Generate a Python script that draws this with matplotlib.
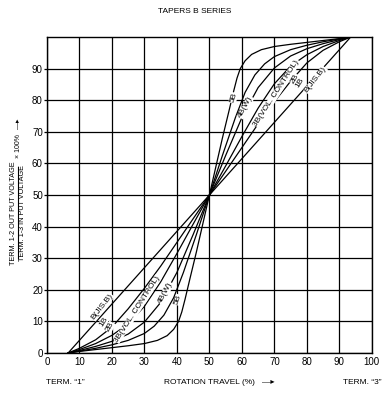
import matplotlib.pyplot as plt
from matplotlib.lines import Line2D

plt.rcParams['font.family'] = ['Liberation Sans', 'DejaVu Sans']

# curves (rotation travel %, output %)
b_x = [6.5, 50, 93.5]
b_y = [0, 50, 100]

b1_x = [6.5, 10, 15, 20, 25, 30, 35, 40, 45, 50, 55, 60, 65, 70, 75, 80, 85, 90, 93.5]
b1_y = [0, 1.5, 4.2, 8.2, 14, 20.5, 27.5, 35, 42.5, 50, 57.5, 65, 72.5, 79.5, 86, 91.8, 95.8, 98.5, 100]

b2_x = [6.5, 10, 15, 20, 25, 30, 35, 40, 45, 50, 55, 60, 65, 70, 75, 80, 85, 90, 93.5]
b2_y = [0, 1.1, 3, 5.6, 9.2, 14.8, 22.5, 31.5, 40.8, 50, 59.2, 68.5, 77.5, 85.2, 90.8, 94.4, 97, 98.9, 100]

b3_x = [6.5, 10, 15, 20, 25, 30, 35, 40, 45, 50, 55, 60, 65, 70, 75, 80, 85, 90, 93.5]
b3_y = [0, 0.8, 2.1, 3.7, 6, 9.8, 16, 25.5, 37.5, 50, 62.5, 74.5, 84, 90.2, 94, 96.3, 97.9, 99.2, 100]

b4_x = [6.5, 10, 15, 20, 25, 30, 33, 36, 39, 42, 46, 50, 54, 58, 61, 64, 67, 70, 75, 80, 85, 90, 93.5]
b4_y = [0, 0.6, 1.5, 2.6, 4, 6.2, 8.5, 12, 17.5, 25.5, 37.5, 50, 62.5, 74.5, 82.5, 88, 91.5, 93.8, 96, 97.4, 98.5, 99.4, 100]

b5_x = [6.5, 10, 15, 20, 25, 30, 34, 37, 39, 40.5, 41.5, 42.5, 44, 46, 48, 50,
        52, 54, 56, 57.5, 58.5, 59.5, 61, 63, 66, 70, 75, 80, 85, 90, 93.5]
b5_y = [0, 0.5, 1.1, 1.7, 2.3, 3, 4, 5.5, 7.5, 10, 13, 17, 23.5, 32, 41, 50,
        59, 68, 76.5, 83, 87, 90, 92.5, 94.5, 96, 97, 97.7, 98.3, 98.9, 99.5, 100]

curves = [(b_x, b_y), (b1_x, b1_y), (b2_x, b2_y), (b3_x, b3_y), (b4_x, b4_y), (b5_x, b5_y)]

# curve labels: (text, x, y, rotation)
labels = [
    ('B(JIS.B)', 17, 14.6, 52), ('1B', 17.4, 9.8, 58), ('2B', 19.4, 8.2, 60),
    ('3B(VOL. CONTROL)', 27.8, 13.9, 57), ('4B(W)', 36.4, 19, 62), ('5B', 40.4, 16.8, 72),
    ('5B', 57.4, 80.7, 72), ('4B(W)', 61.1, 77.8, 62), ('3B(VOL. CONTROL)', 70.7, 82.3, 57),
    ('2B', 76.2, 86.7, 60), ('1B', 77.8, 85.4, 58), ('B(JIS.B)', 82.7, 86.4, 52),
]

x_ticks = list(range(0, 101, 10))
y_ticks = list(range(0, 91, 10))

fig = plt.figure(figsize=(3.89, 3.94), dpi=100)
ax = fig.add_axes([0.1208, 0.104, 0.835, 0.802])

for xs, ys in curves:
    ax.plot(xs, ys, color='black', lw=0.9, zorder=2)

for txt, x, y, rot in labels:
    ax.text(x, y, txt, rotation=rot, ha='center', va='center', fontsize=6,
            rotation_mode='anchor', zorder=3,
            bbox=dict(facecolor='white', edgecolor='none', pad=0.2))

ax.set_xlim(0, 100)
ax.set_ylim(0, 100)
ax.set_xticks(x_ticks)
ax.set_yticks(y_ticks)
ax.grid(True, color='black', lw=0.9)
ax.set_axisbelow(True)
for sp in ax.spines.values():
    sp.set_linewidth(1.0)
ax.tick_params(axis='x', length=0, pad=3, labelsize=7)
ax.tick_params(axis='y', length=2, pad=1, labelsize=7, width=0.9)

fig.text(0.5, 0.972, 'TAPERS B SERIES', ha='center', va='center', fontsize=6)
fig.text(0.118, 0.028, 'TERM. \u201c1\u201d', ha='left', va='center', fontsize=6)
fig.text(0.565, 0.028, 'ROTATION TRAVEL (%)   \u2014\u25b8', ha='center', va='center', fontsize=6)
fig.text(0.932, 0.028, 'TERM. \u201c3\u201d', ha='center', va='center', fontsize=6)

# y label as a fraction
fig.text(0.034, 0.46, 'TERM. 1-2 OUT PUT VOLTAGE', rotation=90, ha='center', va='center', fontsize=5.2)
fig.text(0.058, 0.46, 'TERM. 1-3 IN PUT VOLTAGE', rotation=90, ha='center', va='center', fontsize=5.2)
fig.add_artist(Line2D([0.046, 0.046], [0.345, 0.575], color='black', lw=0.8, transform=fig.transFigure))
fig.text(0.047, 0.598, '\u00d7 100%', rotation=90, ha='center', va='bottom', fontsize=5)
fig.text(0.047, 0.672, '\u2014\u25b8', rotation=90, ha='center', va='bottom', fontsize=5)

fig.savefig('out.png', dpi=100)
